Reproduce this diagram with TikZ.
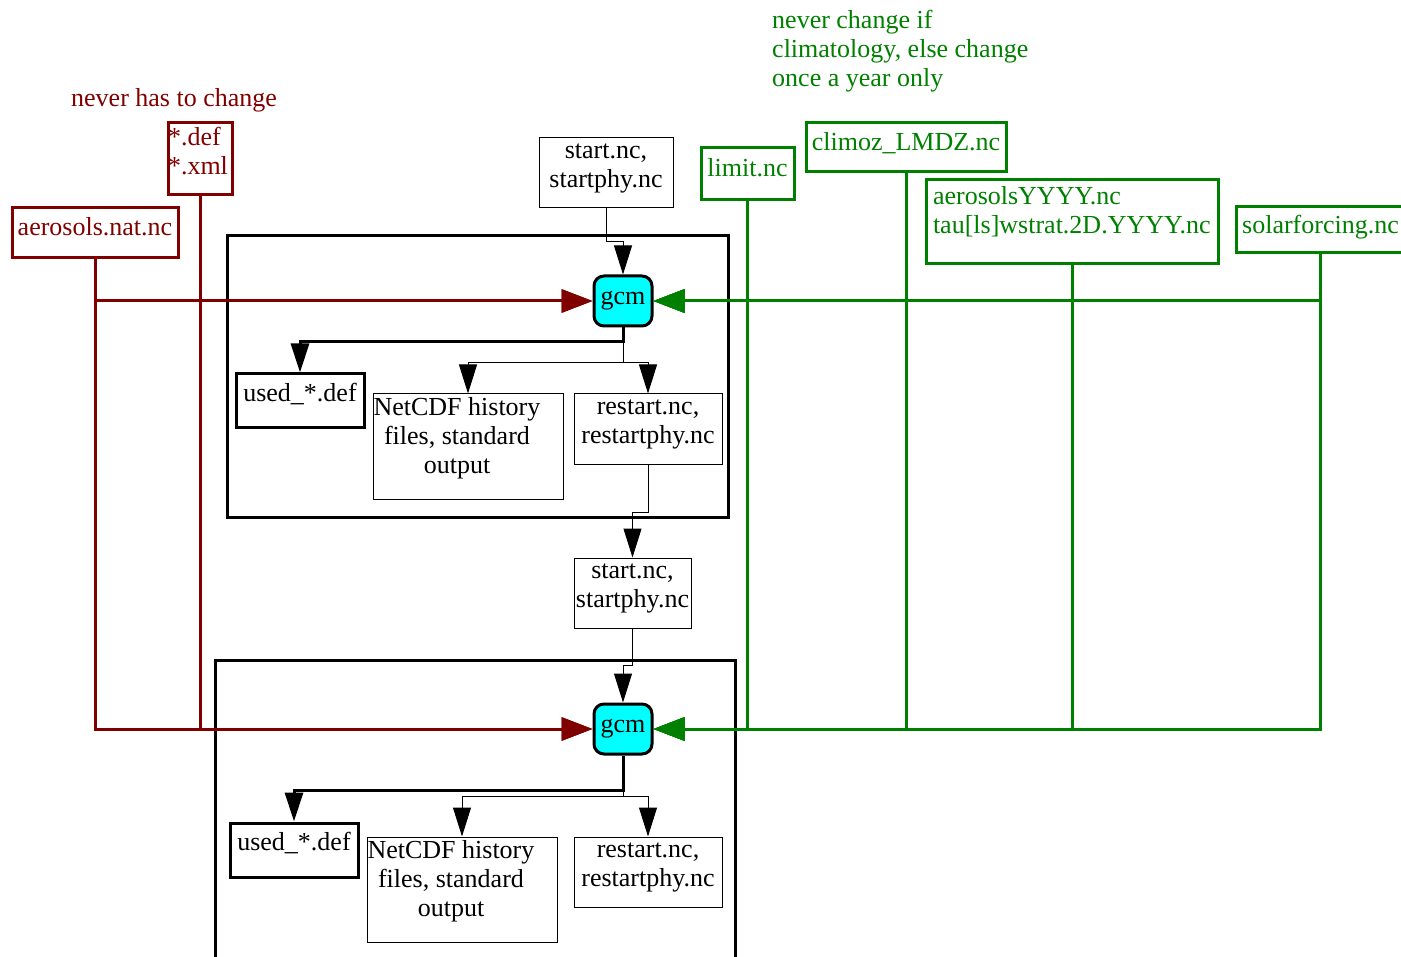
\documentclass[tikz,border=0pt]{standalone}
\usepackage{fontspec}
\setmainfont{Liberation Serif}
\usepackage{xcolor}
\usepackage{tikz}
\usetikzlibrary{arrows.meta}
\usetikzlibrary{calc}
\definecolor{dred}{RGB}{128,0,0}
\definecolor{dgreen}{RGB}{0,128,0}
\definecolor{gcmcyan}{RGB}{0,255,255}
\newcommand\boxtext[4][0pt]{\parbox[c][#3][t]{#2}{\vspace*{#1}#4}}
\tikzstyle{fhead}=[>/.tip={Triangle[length=29pt,width=18pt]}]
\tikzstyle{chead}=[>/.tip={Triangle[length=31pt,width=23pt]}]
\tikzstyle{fl} =[line width=1pt,fhead,->]
\tikzstyle{flb}=[line width=3pt,fhead,->]
\tikzstyle{flr}=[line width=3pt,color=dred,chead,->]
\tikzstyle{flg}=[line width=3pt,color=dgreen,chead,->]
\tikzstyle{fbox}=[draw,line width=1pt,inner sep=0pt]
\tikzstyle{fboxb}=[fbox,line width=3pt]
\tikzstyle{rbox}=[fbox,line width=3pt,draw=dred,text=dred]
\tikzstyle{gbox}=[fbox,line width=3pt,draw=dgreen,text=dgreen]
\tikzstyle{gcm}=[draw,line width=3pt,fill=gcmcyan,rounded corners=10pt,minimum width=58pt,minimum height=50pt,inner sep=0pt]
\tikzstyle{run}=[draw,line width=3pt]

\begin{document}
\begin{tikzpicture}[x=1pt,y=-1pt,font=\fontsize{26}{29}\selectfont]
	\useasboundingbox (0,0) rectangle (1401,957);
	\draw[run] (227,236) rectangle (728,517);
	\draw[run] (215,660) rectangle (735,975);
	\node[anchor=base west,text=dred,inner sep=0pt] (never) at (71,107) {never has to change};
	\node[rbox] (defxml)  at (200,159) {\boxtext[2pt]{64pt}{72pt}{\raggedright\strut*.def\\{}*.xml}};
	\node[rbox] (aeronat) at (95,233)  {\boxtext[7pt]{166pt}{50pt}{\centering\strut aerosols.nat.nc}};
	\node[anchor=north west,text=dgreen,inner sep=0pt] (clim) at (772,7.7) {\parbox[t]{270pt}{\raggedright\strut never change if\\climatology, else change\\once a year only}};
	\node[gbox] (limit)  at (747.5,174) {\boxtext[8pt]{93pt}{52pt}{\centering\strut limit.nc}};
	\node[gbox] (climoz) at (906,147.5) {\boxtext[7pt]{200pt}{49pt}{\centering\strut climoz\_LMDZ.nc}};
	\node[gbox] (aeroyr) at (1072,222)  {\boxtext[4pt]{292pt}{84pt}{\raggedright\leftskip=7pt\strut aerosolsYYYY.nc\\tau[ls]wstrat.2D.YYYY.nc}};
	\node[gbox] (solar)  at (1320.5,230) {\boxtext[6pt]{169pt}{46pt}{\centering\strut solarforcing.nc}};
	\node[fbox]  (start1)   at (606,173)   {\boxtext{134pt}{70pt}{\centering\strut start.nc,\\startphy.nc}};
	\node[gcm]   (gcm1)     at (623,301)   {gcm};
	\node[fboxb] (used1)    at (300,401)   {\boxtext[7pt]{128pt}{54pt}{\centering\strut used\_*.def}};
	\node[fbox]  (netcdf1)  at (468,447)   {\boxtext[1pt]{190pt}{106pt}{\centering\rightskip=22pt plus 1fil\strut NetCDF history\\files, standard\\output}};
	\node[fbox]  (restart1) at (648,429.5) {\boxtext{148pt}{71pt}{\centering\strut restart.nc,\\restartphy.nc}};
	\node[fbox]  (start2)   at (632.5,593) {\boxtext{117pt}{70pt}{\centering\strut start.nc,\\startphy.nc}};
	\node[gcm]   (gcm2)     at (623,729)   {gcm};
	\node[fboxb] (used2)    at (294,850)   {\boxtext[7pt]{128pt}{54pt}{\centering\strut used\_*.def}};
	\node[fbox]  (netcdf2)  at (462,889.5) {\boxtext[1pt]{190pt}{105pt}{\centering\rightskip=22pt plus 1fil\strut NetCDF history\\files, standard\\output}};
	\node[fbox]  (restart2) at (648,872)   {\boxtext{148pt}{70pt}{\centering\strut restart.nc,\\restartphy.nc}};
	\draw[fl]  (start1.south) -- ++(0,33) -| (gcm1.north);
	\draw[flb] (gcm1.south) -- ++(0,14) -| (used1.north);
	\draw[fl]  (gcm1.south) -- ++(0,35) -| (netcdf1.north);
	\draw[fl]  (gcm1.south) -- ++(0,35) -| (restart1.north);
	\draw[fl]  (restart1.south) -- ++(0,47) -| (start2.north);
	\draw[fl]  (start2.south) -- ++(0,37) -| (gcm2.north);
	\draw[flb] (gcm2.south) -- ++(0,35) -| (used2.north);
	\draw[fl]  (gcm2.south) -- ++(0,41) -| (netcdf2.north);
	\draw[fl]  (gcm2.south) -- ++(0,41) -| (restart2.north);
	\draw[flr] (aeronat.south) |- (gcm1.west);
	\draw[flr] (aeronat.south) |- (gcm2.west);
	\draw[flr] (defxml.south) |- (gcm1.west);
	\draw[flr] (defxml.south) |- (gcm2.west);
	\draw[flg] (limit.south)  |- (gcm1.east);
	\draw[flg] (limit.south)  |- (gcm2.east);
	\draw[flg] (climoz.south) |- (gcm1.east);
	\draw[flg] (climoz.south) |- (gcm2.east);
	\draw[flg] (aeroyr.south) |- (gcm1.east);
	\draw[flg] (aeroyr.south) |- (gcm2.east);
	\draw[flg] (solar.south)  |- (gcm1.east);
	\draw[flg] (solar.south)  |- (gcm2.east);
\end{tikzpicture}
\end{document}
